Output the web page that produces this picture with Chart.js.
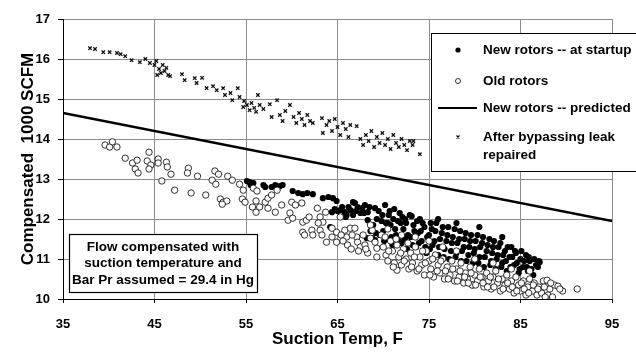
<!DOCTYPE html>
<html>
<head>
<meta charset="utf-8">
<script src="https://cdn.jsdelivr.net/npm/chart.js@4.4.1/dist/chart.umd.min.js"></script>
<style>
  html, body { margin: 0; padding: 0; background: #fff; }
  #wrap { width: 636px; height: 358px; }
</style>
</head>
<body>
<div id="wrap"><canvas id="flowChart" width="636" height="358"></canvas></div>
<script>
// axis ticks
const xTicks = [35, 45, 55, 65, 75, 85, 95];
const yTicks = [10, 11, 12, 13, 14, 15, 16, 17];

// New rotors -- at startup (suction temp F, 1000 SCFM)
const newRotorsT = [55.1, 55.4, 55.8, 55.5, 56.9, 57.1, 57.8, 58.2, 58.7, 59.0, 60.1, 60.7, 61.2, 61.7, 62.3, 63.4, 64.0, 64.5, 64.9, 64.4,
  65.3, 65.8, 66.4, 66.9, 67.2, 67.7, 68.0, 66.7, 67.5, 68.3, 69.1, 68.3, 68.9, 68.2, 68.8, 69.1, 64.2, 66.7, 65.0, 64.7,
  69.5, 69.8, 70.0, 70.2, 70.4, 70.6, 70.8, 71.0, 71.2, 71.4, 71.6, 71.8, 72.0, 72.2, 72.4, 72.6, 72.9, 73.1, 73.0, 73.3,
  73.6, 73.8, 74.0, 74.2, 74.5, 74.7, 75.0, 75.2, 75.4, 75.7, 76.0, 76.2, 76.5, 76.7, 77.0, 77.2, 77.5, 77.8, 78.0, 78.3,
  78.5, 78.8, 79.0, 79.3, 79.5, 79.8, 80.0, 80.3, 80.5, 80.8, 81.0, 81.3, 81.6, 81.8, 82.0, 82.3, 82.5, 82.8, 83.0, 83.3,
  83.5, 83.8, 84.0, 84.3, 84.5, 84.8, 85.0, 85.3, 85.6, 85.8, 86.0, 86.4, 86.7, 87.1, 83.0, 80.5, 78.0, 76.0, 70.5, 72.5,
  69.6, 69.9, 70.1, 70.3, 70.7, 70.9, 71.1, 71.3, 71.7, 71.9, 72.1, 72.3, 72.5, 72.7, 73.2, 73.4, 73.7, 73.9, 74.1, 74.3,
  74.6, 74.8, 75.1, 75.3, 75.6, 75.8, 76.1, 76.4, 76.6, 76.9, 77.1, 77.4, 77.6, 77.9, 78.1, 78.4, 78.6, 78.9, 79.1, 79.4,
  79.6, 79.9, 80.1, 80.4, 80.6, 80.9, 81.1, 81.4, 81.7, 81.9, 82.1, 82.4, 82.6, 82.9, 83.1, 83.4, 83.6, 83.9, 84.1, 84.4,
  84.6, 84.9, 85.1, 85.4, 85.7, 85.9, 86.2, 86.5, 86.9, 87.0, 65.5, 66.0, 66.2, 67.0, 67.9, 68.5, 68.6, 69.3, 69.2, 65.9];
const newRotorsF = [12.95, 12.92, 12.90, 12.85, 12.85, 12.80, 12.80, 12.85, 12.82, 12.85, 12.70, 12.65, 12.62, 12.65, 12.62, 12.52, 12.55, 12.52, 12.45, 12.17,
  12.22, 12.17, 12.22, 12.40, 12.30, 12.27, 12.35, 12.10, 12.15, 12.17, 12.27, 11.97, 11.85, 11.52, 11.52, 11.47, 11.80, 12.42, 12.20, 12.25,
  12.20, 11.95, 11.70, 12.35, 11.50, 12.10, 11.85, 11.35, 12.25, 11.60, 11.95, 12.15, 11.40, 11.75, 12.00, 11.25, 12.10, 12.07, 11.55, 11.85,
  11.30, 11.65, 12.00, 11.45, 11.80, 11.15, 11.60, 11.90, 11.35, 11.70, 11.10, 11.50, 11.80, 11.25, 11.60, 11.00, 11.40, 11.75, 11.15, 11.50,
  10.95, 11.30, 11.65, 11.10, 11.45, 10.90, 11.25, 11.60, 11.05, 11.40, 10.80, 11.20, 11.50, 10.95, 11.30, 10.75, 11.10, 11.40, 10.90, 11.20,
  10.70, 11.05, 11.30, 10.85, 11.15, 10.65, 11.00, 10.80, 11.10, 10.70, 10.95, 10.60, 10.85, 10.92, 11.55, 11.80, 11.90, 12.00, 11.90, 11.55,
  11.60, 12.10, 11.45, 11.90, 12.20, 11.55, 12.00, 11.75, 11.45, 11.90, 12.05, 11.50, 11.90, 11.60, 11.35, 11.70, 11.95, 11.40, 11.70, 11.90,
  11.30, 11.55, 11.25, 11.75, 11.45, 11.90, 11.30, 11.65, 11.05, 11.45, 11.80, 11.20, 11.55, 11.05, 11.40, 11.70, 11.20, 11.50, 10.95, 11.30,
  11.60, 11.15, 11.45, 10.90, 11.30, 11.55, 11.05, 11.35, 10.85, 11.15, 11.45, 11.00, 11.30, 10.80, 11.10, 10.95, 11.30, 10.80, 11.05, 11.20,
  10.90, 10.75, 11.20, 10.95, 10.80, 11.05, 10.75, 11.00, 10.80, 10.95, 12.30, 12.10, 12.30, 12.20, 12.15, 12.30, 11.70, 12.00, 11.65, 12.05];

// Old rotors
const oldRotorsT = [39.6, 40.1, 40.4, 40.9, 41.8, 42.6, 43.1, 42.9, 43.2, 44.2, 44.4, 44.6, 44.4, 45.4, 45.4, 46.3, 46.4, 46.8, 45.8, 47.2,
  48.7, 48.6, 49.0, 49.7, 50.6, 51.3, 51.6, 52.0, 51.7, 52.2, 52.5, 52.9, 52.4, 53.0, 53.5, 54.3, 54.7, 54.6, 54.9, 55.8,
  56.2, 55.7, 56.1, 56.1, 56.5, 57.1, 57.4, 57.8, 58.4, 57.4, 58.2, 58.9, 60.0, 60.4, 61.1, 59.8, 59.6, 60.1, 61.2, 61.6,
  61.9, 62.8, 63.1, 63.4, 62.9, 61.2, 61.4, 62.2, 62.3, 63.1, 63.3, 63.7, 63.8, 64.4, 64.4, 64.9, 64.9, 65.3, 65.8, 66.0,
  66.1, 66.4, 66.9, 67.1, 67.2, 67.5, 68.0, 68.3, 68.6, 69.1, 69.3, 69.3, 68.8, 68.6,
  69.8, 70.0, 70.3, 70.5, 70.8, 71.0, 71.2, 71.5, 71.7, 72.0, 72.2, 72.5, 72.8, 73.0, 73.2, 73.5, 73.7, 74.0, 74.2, 74.5,
  74.7, 75.0, 75.2, 75.5, 75.7, 76.0, 76.2, 76.5, 76.7, 77.0, 77.3, 77.5, 77.8, 78.0, 78.3, 78.5, 78.8, 79.0, 79.2, 79.5,
  79.8, 80.0, 80.3, 80.5, 80.8, 81.0, 81.3, 81.5, 81.8, 82.0, 82.3, 82.5, 82.8, 83.0, 83.3, 83.5, 83.8, 84.0, 84.3, 84.5,
  84.8, 85.0, 85.3, 85.6, 85.8, 86.0, 86.3, 86.5, 86.8, 87.0, 87.3, 87.5, 87.9, 88.0, 88.2, 88.5, 88.7, 89.1, 89.6, 91.2,
  70.5, 72.0, 73.5, 75.0, 76.5, 78.0, 80.0, 82.0, 84.0, 86.0, 71.5, 79.7,
  70.2, 70.6, 71.1, 71.4, 71.9, 72.3, 72.7, 73.1, 73.4, 73.9, 74.3, 74.6, 75.1, 75.4, 75.9, 76.3, 76.8, 77.1, 77.6, 78.1,
  78.4, 78.9, 79.3, 79.6, 80.1, 80.6, 80.9, 81.4, 81.7, 82.1, 82.6, 83.1, 83.6, 84.1, 84.6, 85.1, 85.4, 85.9, 86.4, 86.9,
  87.6, 88.3, 89.3, 87.7, 65.4, 65.6, 66.6, 67.8, 68.1, 67.3, 66.5];
const oldRotorsF = [13.85, 13.80, 13.93, 13.80, 13.52, 13.40, 13.47, 13.25, 13.15, 13.45, 13.67, 13.35, 13.25, 13.50, 13.40, 13.42, 13.30, 13.12, 12.95, 12.72,
  13.27, 13.15, 12.65, 13.07, 12.60, 12.97, 13.20, 13.12, 12.87, 12.50, 12.42, 12.45, 12.37, 13.07, 12.97, 12.87, 12.72, 12.50, 12.42, 12.77,
  12.70, 12.30, 12.45, 12.17, 12.30, 12.42, 12.52, 12.60, 12.72, 12.27, 12.17, 12.35, 12.42, 12.35, 12.40, 12.15, 11.97, 12.02, 11.92, 11.97,
  12.05, 12.27, 12.05, 11.92, 11.90, 11.67, 11.60, 11.72, 11.60, 11.72, 11.60, 12.17, 11.42, 11.55, 11.77, 11.67, 11.42, 12.05, 11.72, 11.55,
  11.35, 11.77, 11.77, 11.55, 11.42, 11.30, 11.35, 11.15, 11.52, 11.42, 11.27, 11.05, 11.72, 11.85,
  11.60, 11.30, 11.10, 10.95, 11.45, 11.20, 10.90, 11.35, 11.05, 10.85, 11.25, 11.00, 10.75, 11.15, 10.90, 11.30, 10.70, 11.05, 10.85, 10.60,
  11.20, 10.95, 10.75, 10.55, 11.10, 10.85, 10.65, 11.00, 10.50, 10.80, 10.60, 10.95, 10.45, 10.75, 10.55, 10.90, 10.40, 10.65, 10.50, 10.80,
  10.35, 10.60, 10.45, 10.75, 10.55, 10.30, 10.65, 10.45, 10.25, 10.55, 10.70, 10.40, 10.20, 10.50, 10.35, 10.60, 10.25, 10.45, 10.15, 10.55,
  10.35, 10.20, 10.45, 10.10, 10.30, 10.50, 10.20, 10.40, 10.10, 10.30, 10.15, 10.45, 10.47, 10.10, 10.25, 10.05, 10.35, 10.32, 10.20, 10.25,
  11.75, 11.60, 11.55, 11.45, 11.30, 11.20, 11.00, 10.90, 10.75, 10.70, 10.72, 10.35,
  11.55, 11.20, 10.80, 11.50, 11.15, 10.95, 11.40, 10.80, 11.05, 10.75, 11.20, 10.90, 10.60, 11.00, 10.70, 10.95, 10.70, 10.50, 10.75, 10.45,
  10.70, 10.55, 10.40, 10.65, 10.35, 10.55, 10.40, 10.30, 10.55, 10.30, 10.50, 10.25, 10.40, 10.30, 10.20, 10.40, 10.25, 10.15, 10.35, 10.25,
  10.30, 10.40, 10.25, 10.05, 11.60, 11.45, 11.60, 11.60, 11.25, 11.20, 11.25];

// New rotors -- predicted
const predictedT = [35, 95];
const predictedF = [14.65, 11.95];

// After bypassing leak repaired
const bypassT = [37.95, 38.5, 39.4, 40.1, 40.9, 41.3, 41.8, 42.5, 43.4, 44.0, 44.5, 45.0, 45.2, 45.5, 45.7, 45.9, 46.1, 46.3, 46.5, 45.3,
  46.7, 48.0, 48.3, 49.4, 49.6, 50.2, 50.7, 51.4, 51.8, 52.5, 52.7, 53.3, 53.5, 54.1, 54.3, 54.7, 54.8, 55.1, 55.4, 55.6,
  55.9, 56.1, 56.3, 56.5, 56.9, 57.6, 58.4, 57.8, 58.7, 59.0, 59.3, 59.8, 60.2, 60.5, 60.8, 61.1, 61.4, 61.7, 62.0, 62.3,
  63.3, 63.4, 63.8, 64.1, 64.4, 64.7, 65.0, 65.3, 65.6, 65.9, 66.2, 66.4, 67.1, 67.5, 67.8, 68.1, 68.4, 68.7, 69.0, 69.3,
  69.6, 69.9, 70.2, 70.5, 70.8, 71.1, 71.4, 71.7, 72.0, 72.3, 72.6, 72.9, 73.2, 73.3, 74.0];
const bypassF = [16.27, 16.25, 16.17, 16.17, 16.15, 16.12, 16.07, 15.97, 15.92, 16.00, 15.90, 15.85, 15.95, 15.75, 15.65, 15.85, 15.70, 15.78, 15.60, 15.60,
  15.57, 15.62, 15.47, 15.52, 15.40, 15.53, 15.27, 15.32, 15.22, 15.27, 15.10, 15.15, 14.97, 15.27, 15.05, 14.80, 14.95, 14.85, 14.72, 14.90,
  14.78, 14.68, 15.10, 14.85, 14.75, 14.87, 14.97, 14.55, 14.60, 14.45, 14.70, 14.85, 14.55, 14.40, 14.65, 14.50, 14.35, 14.60, 14.45, 14.40,
  14.52, 14.15, 14.35, 14.45, 14.20, 14.50, 14.30, 14.10, 14.40, 14.25, 14.05, 14.35, 14.32, 14.00, 13.85, 14.10, 13.95, 14.20, 13.80, 14.05,
  13.90, 14.15, 13.85, 14.00, 13.75, 14.10, 13.90, 13.80, 14.00, 13.85, 13.72, 13.95, 13.85, 13.95, 13.62];

const toPoints = (xs, ys) => xs.map((x, i) => ({ x: x, y: ys[i] }));

const boldFont = (size) => 'bold ' + size + 'px "Liberation Sans", Arial, sans-serif';

// legend box + note box, drawn on top of the plot
const boxesPlugin = {
    id: 'boxes',
    afterDraw(chart) {
        const ctx = chart.ctx;
        ctx.save();

        // legend
        ctx.fillStyle = '#fff';
        ctx.fillRect(431, 33, 220, 139);
        ctx.strokeStyle = '#000';
        ctx.lineWidth = 1;
        ctx.strokeRect(431.5, 33.5, 220, 138);

        ctx.font = boldFont(13.5);
        ctx.fillStyle = '#000';
        ctx.textBaseline = 'middle';
        ctx.textAlign = 'left';

        ctx.beginPath();
        ctx.arc(458, 50, 2.6, 0, Math.PI * 2);
        ctx.fill();
        ctx.fillText('New rotors -- at startup', 483, 50);

        ctx.beginPath();
        ctx.arc(458, 81, 2.5, 0, Math.PI * 2);
        ctx.lineWidth = 0.8;
        ctx.stroke();
        ctx.fillText('Old rotors', 483, 81);

        ctx.beginPath();
        ctx.moveTo(438, 108);
        ctx.lineTo(477, 108);
        ctx.lineWidth = 2.2;
        ctx.stroke();
        ctx.fillText('New rotors -- predicted', 483, 108);

        ctx.beginPath();
        ctx.moveTo(456.5, 135.5); ctx.lineTo(459.5, 138.5);
        ctx.moveTo(459.5, 135.5); ctx.lineTo(456.5, 138.5);
        ctx.lineWidth = 1.2;
        ctx.stroke();
        ctx.fillText('After bypassing leak', 483, 137);
        ctx.fillText('repaired', 483, 155);

        // note
        ctx.fillStyle = '#fff';
        ctx.fillRect(69, 234, 188, 58);
        ctx.lineWidth = 1.2;
        ctx.strokeRect(69.5, 234.5, 188, 58);
        ctx.fillStyle = '#000';
        ctx.textAlign = 'center';
        ctx.fillText('Flow compensated with', 163, 247);
        ctx.fillText('suction temperature and', 163, 263);
        ctx.fillText('Bar Pr assumed = 29.4 in Hg', 163, 280);

        ctx.restore();
    }
};

new Chart(document.getElementById('flowChart'), {
    type: 'scatter',
    data: {
        datasets: [
            {
                label: 'New rotors -- predicted',
                data: toPoints(predictedT, predictedF),
                showLine: true,
                borderColor: '#000',
                borderWidth: 2.5,
                pointRadius: 0,
                order: 0
            },
            {
                label: 'Old rotors',
                data: toPoints(oldRotorsT, oldRotorsF),
                pointStyle: 'circle',
                pointRadius: 3.2,
                backgroundColor: '#fff',
                borderColor: '#000',
                borderWidth: 0.8,
                order: 1
            },
            {
                label: 'New rotors -- at startup',
                data: toPoints(newRotorsT, newRotorsF),
                pointStyle: 'circle',
                pointRadius: 3.1,
                backgroundColor: '#000',
                borderColor: '#000',
                borderWidth: 0,
                order: 2
            },
            {
                label: 'After bypassing leak repaired',
                data: toPoints(bypassT, bypassF),
                pointStyle: 'crossRot',
                pointRadius: 2.4,
                borderColor: '#111',
                borderWidth: 1.3,
                order: 3
            }
        ]
    },
    options: {
        responsive: false,
        animation: false,
        events: [],
        layout: { padding: { top: 19, right: 24, left: 0, bottom: 0 } },
        plugins: {
            legend: { display: false },
            tooltip: { enabled: false }
        },
        scales: {
            x: {
                type: 'linear',
                min: 35,
                max: 95,
                afterBuildTicks: (scale) => { scale.ticks = xTicks.map(v => ({ value: v })); },
                afterFit: (scale) => { scale.height = 59; },
                grid: { color: '#8c8c8c', lineWidth: 1, tickLength: 4, tickColor: '#000' },
                border: { color: '#000', width: 1 },
                ticks: {
                    color: '#000',
                    padding: 14,
                    maxRotation: 0,
                    font: { family: '"Liberation Sans", Arial, sans-serif', size: 13, weight: 'bold' }
                },
                title: {
                    display: true,
                    text: 'Suction Temp, F',
                    color: '#000',
                    padding: { top: 0, bottom: 8 },
                    font: { family: '"Liberation Sans", Arial, sans-serif', size: 17, weight: 'bold' }
                }
            },
            y: {
                type: 'linear',
                min: 10,
                max: 17,
                afterBuildTicks: (scale) => { scale.ticks = yTicks.map(v => ({ value: v })); },
                afterFit: (scale) => { scale.width = 63; },
                grid: { color: '#8c8c8c', lineWidth: 1, tickLength: 5, tickColor: '#000' },
                border: { color: '#000', width: 1 },
                ticks: {
                    color: '#000',
                    padding: 8,
                    font: { family: '"Liberation Sans", Arial, sans-serif', size: 13, weight: 'bold' }
                },
                title: {
                    display: true,
                    text: 'Compensated  1000 SCFM',
                    color: '#000',
                    padding: { top: 18, bottom: 0 },
                    font: { family: '"Liberation Sans", Arial, sans-serif', size: 17, weight: 'bold' }
                }
            }
        }
    },
    plugins: [boxesPlugin]
});
</script>
</body>
</html>
